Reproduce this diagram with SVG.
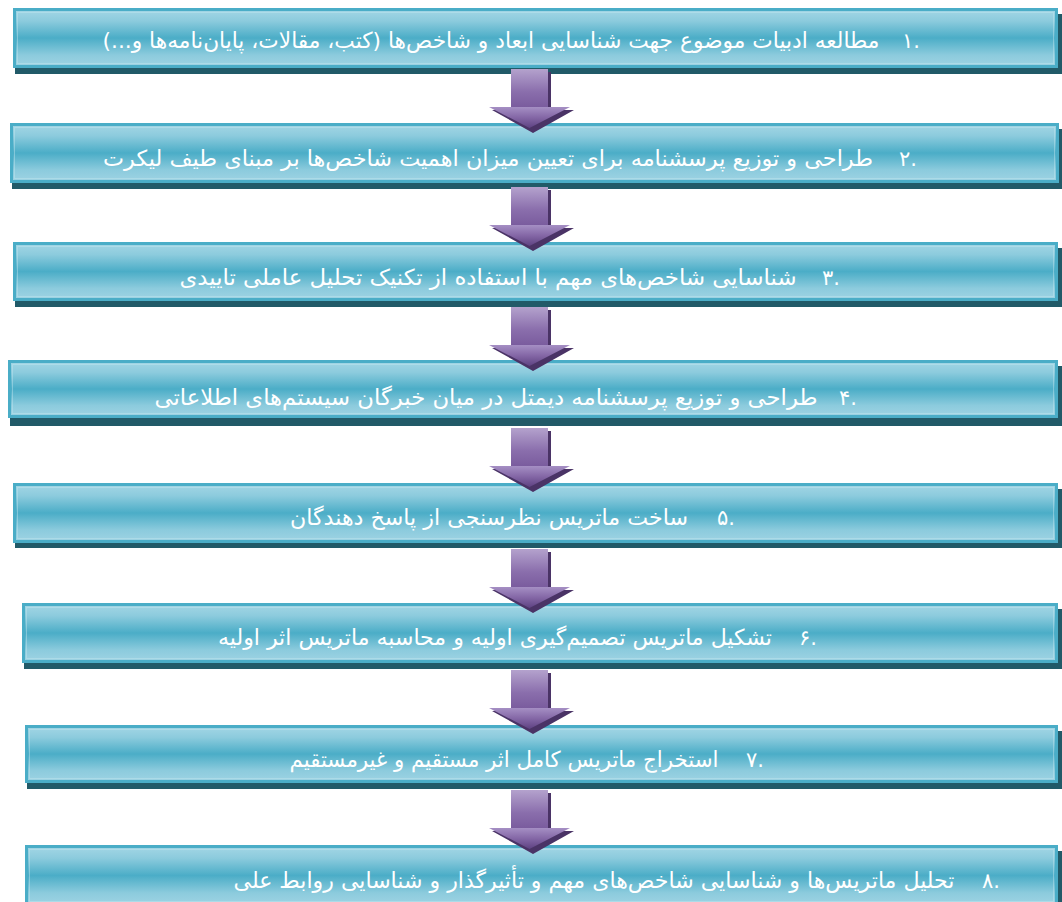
<svg xmlns="http://www.w3.org/2000/svg" width="1062" height="902" viewBox="0 0 1062 902">
<defs>
<linearGradient id="boxg" x1="0" y1="0" x2="0" y2="1">
<stop offset="0" stop-color="#a3d6e5"/>
<stop offset="0.2" stop-color="#8ccbdd"/>
<stop offset="0.5" stop-color="#4badc7"/>
<stop offset="0.8" stop-color="#8ccbdd"/>
<stop offset="1" stop-color="#9ed3e3"/>
</linearGradient>
<linearGradient id="shaftg" x1="0" y1="0" x2="0" y2="1">
<stop offset="0" stop-color="#b4a2cd"/>
<stop offset="0.6" stop-color="#8a6eac"/>
<stop offset="1" stop-color="#7a5c9e"/>
</linearGradient>
<linearGradient id="headg" x1="0" y1="0" x2="0" y2="1">
<stop offset="0" stop-color="#a58fc4"/>
<stop offset="0.5" stop-color="#8467a6"/>
<stop offset="1" stop-color="#5e4282"/>
</linearGradient>
<g id="arrow">
<path d="M3,3 H40 V41 H63 L22,64 L-19,41 H3 Z" fill="#4a3366"/>
<rect x="0" y="0" width="37" height="38" fill="url(#shaftg)"/>
<path d="M-22,38 H59 L18.5,59 Z" fill="url(#headg)"/>
</g>
</defs>
<style>
.shadow{fill:#215a68}
.box{fill:url(#boxg);stroke:#4aadc7;stroke-width:3}
.inner{fill:none;stroke:#c4e6ef;stroke-opacity:0.45;stroke-width:1}
.t{font-family:"DejaVu Sans",sans-serif;font-size:22px;fill:#ffffff;direction:rtl;text-anchor:middle}
.n{font-family:"DejaVu Sans",sans-serif;font-size:21px;fill:#ffffff;text-anchor:middle}
</style>
<g id="node1">
<rect class="shadow" x="15" y="14" width="1047" height="60"/>
<rect class="box" x="14.5" y="9.5" width="1042" height="57"/>
<rect class="inner" x="17.5" y="12.5" width="1036" height="51"/>
<text class="n" x="911" y="48">۱.</text>
<text class="t" x="491" y="48" textLength="777" lengthAdjust="spacingAndGlyphs">مطالعه ادبیات موضوع جهت شناسایی ابعاد و شاخص‌ها (کتب، مقالات، پایان‌نامه‌ها و...)</text>
</g>
<g id="node2">
<rect class="shadow" x="12" y="129" width="1050" height="60"/>
<rect class="box" x="11.5" y="124.5" width="1046" height="57"/>
<rect class="inner" x="14.5" y="127.5" width="1040" height="51"/>
<text class="n" x="908" y="166">۲.</text>
<text class="t" x="488" y="166" textLength="770" lengthAdjust="spacingAndGlyphs">طراحی و توزیع پرسشنامه برای تعیین میزان اهمیت شاخص‌ها بر مبنای طیف لیکرت</text>
</g>
<g id="node3">
<rect class="shadow" x="15" y="248" width="1047" height="59"/>
<rect class="box" x="14.5" y="243.5" width="1042" height="56"/>
<rect class="inner" x="17.5" y="246.5" width="1036" height="50"/>
<text class="n" x="831" y="285">۳.</text>
<text class="t" x="488" y="285" textLength="617" lengthAdjust="spacingAndGlyphs">شناسایی شاخص‌های مهم با استفاده از تکنیک تحلیل عاملی تاییدی</text>
</g>
<g id="node4">
<rect class="shadow" x="10" y="366" width="1052" height="60"/>
<rect class="box" x="9.5" y="361.5" width="1047" height="55"/>
<rect class="inner" x="12.5" y="364.5" width="1041" height="49"/>
<text class="n" x="848" y="405">۴.</text>
<text class="t" x="486" y="405" textLength="663" lengthAdjust="spacingAndGlyphs">طراحی و توزیع پرسشنامه دیمتل در میان خبرگان سیستم‌های اطلاعاتی</text>
</g>
<g id="node5">
<rect class="shadow" x="15" y="489" width="1047" height="59"/>
<rect class="box" x="14.5" y="484.5" width="1042" height="57"/>
<rect class="inner" x="17.5" y="487.5" width="1036" height="51"/>
<text class="n" x="726" y="525">۵.</text>
<text class="t" x="489" y="525" textLength="398" lengthAdjust="spacingAndGlyphs">ساخت ماتریس نظرسنجی از پاسخ دهندگان</text>
</g>
<g id="node6">
<rect class="shadow" x="24" y="609" width="1038" height="60"/>
<rect class="box" x="23.5" y="604.5" width="1033" height="57"/>
<rect class="inner" x="26.5" y="607.5" width="1027" height="51"/>
<text class="n" x="808" y="645">۶.</text>
<text class="t" x="495" y="645" textLength="554" lengthAdjust="spacingAndGlyphs">تشکیل ماتریس تصمیم‌گیری اولیه و محاسبه ماتریس اثر اولیه</text>
</g>
<g id="node7">
<rect class="shadow" x="27" y="731" width="1035" height="58"/>
<rect class="box" x="26.5" y="726.5" width="1030" height="55"/>
<rect class="inner" x="29.5" y="729.5" width="1024" height="49"/>
<text class="n" x="755" y="767">۷.</text>
<text class="t" x="504" y="767" textLength="429" lengthAdjust="spacingAndGlyphs">استخراج ماتریس کامل اثر مستقیم و غیرمستقیم</text>
</g>
<g id="node8">
<rect class="shadow" x="27" y="851" width="1035" height="60"/>
<rect class="box" x="26.5" y="846.5" width="1030" height="58"/>
<rect class="inner" x="29.5" y="849.5" width="1024" height="52"/>
<text class="n" x="991" y="888">۸.</text>
<text class="t" x="594" y="888" textLength="721" lengthAdjust="spacingAndGlyphs">تحلیل ماتریس‌ها و شناسایی شاخص‌های مهم و تأثیرگذار و شناسایی روابط علی</text>
</g>
<g id="connectors">
<use href="#arrow" x="511" y="69"/>
<use href="#arrow" x="511" y="187"/>
<use href="#arrow" x="511" y="307"/>
<use href="#arrow" x="511" y="428"/>
<use href="#arrow" x="511" y="549"/>
<use href="#arrow" x="511" y="670"/>
<use href="#arrow" x="511" y="790"/>
</g>
</svg>
